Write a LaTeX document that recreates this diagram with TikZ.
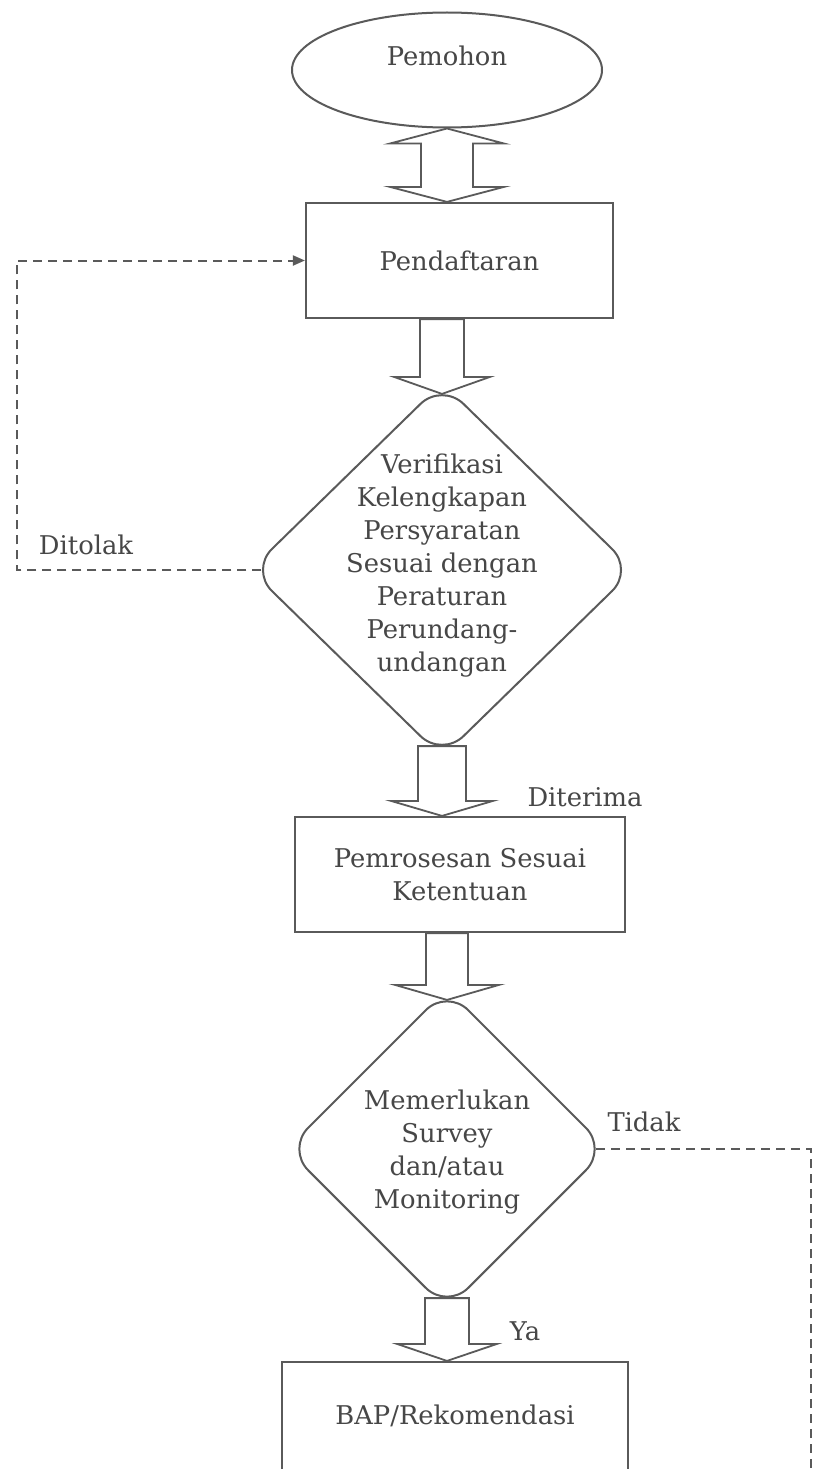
\documentclass[tikz,border=0pt]{standalone}
\usepackage{fontspec}
\setmainfont{DejaVu Serif}
\usetikzlibrary{shapes.geometric,arrows.meta,calc}
\definecolor{ln}{HTML}{5A5A5A}
\definecolor{tx}{HTML}{474747}
\newcommand{\blkarrow}[5]{%
  \draw[blk] let \p1=(#1), \p2=(#2) in
    (\x2-#3,\y1) -- (\x2-#3,\y2+#5) -- (\x2-#4,\y2+#5) -- (\x2,\y2)
    -- (\x2+#4,\y2+#5) -- (\x2+#3,\y2+#5) -- (\x2+#3,\y1) -- cycle;}
\begin{document}
\begin{tikzpicture}[x=1pt,y=-1pt,
  every node/.style={text=tx,font=\fontsize{25.8}{33}\selectfont},
  boxnode/.style={draw=ln,line width=2.2pt,rectangle,inner sep=0pt},
  dianode/.style={draw=ln,line width=2pt,diamond,inner sep=0pt,rounded corners=30pt},
  ellnode/.style={draw=ln,line width=2pt,ellipse,inner sep=0pt},
  blk/.style={draw=ln,line width=1.8pt,fill=white,line join=miter},
  dsh/.style={draw=ln,line width=2pt,dash pattern=on 9pt off 6pt},
  lbl/.style={inner sep=0pt}]
\useasboundingbox (0,0) rectangle (813,1469);
\fill[white] (0,0) rectangle (813,1469);
\clip (0,0) rectangle (813,1469);

% nodes
\node[ellnode,minimum width=310,minimum height=115] (ell) at (447,70) {};
\node[lbl] (pemohon) at (447,56) {Pemohon};
\node[boxnode,minimum width=307,minimum height=115] (pend) at (459.5,260.5) {Pendaftaran};
\node[dianode,minimum width=384,minimum height=375] (d1) at (442,570) {};
\node[lbl,align=center] (d1t) at (442,566) {Verifikasi\\Kelengkapan\\Persyaratan\\Sesuai dengan\\Peraturan\\Perundang-\\undangan};
\node[boxnode,minimum width=330,minimum height=115,align=center] (proc) at (460,874.5) {Pemrosesan Sesuai\\Ketentuan};
\node[dianode,minimum width=321,minimum height=321] (d2) at (447,1149) {};
\node[lbl,align=center] (d2t) at (447,1152) {Memerlukan\\Survey\\dan/atau\\Monitoring};
\node[boxnode,minimum width=346,minimum height=110] (bap) at (455,1417) {};
\node[lbl] (bapt) at (455,1416) {BAP/Rekomendasi};

% labels
\node[lbl] (ditolak) at (86,545) {Ditolak};
\node[lbl] (diterima) at (585,797) {Diterima};
\node[lbl] (tidak) at (644,1122) {Tidak};
\node[lbl] (ya) at (525,1331) {Ya};

% visible tips of the rounded diamonds
\coordinate (d1n) at ($(d1.north)+(0,12.4)$);
\coordinate (d1s) at ($(d1.south)+(0,-12.4)$);
\coordinate (d1w) at ($(d1.west)+(12.4,0)$);
\coordinate (d2n) at ($(d2.north)+(0,12.4)$);
\coordinate (d2s) at ($(d2.south)+(0,-12.4)$);
\coordinate (d2e) at ($(d2.east)+(-12.4,0)$);

% double block arrow
\draw[blk] let \p1=(ell.south), \p2=(pend.north) in
  (\x1,\y1) -- (\x1+57pt,\y1-15pt) -- (\x1+26pt,\y1-15pt) -- (\x1+26pt,\y2+15pt)
  -- (\x1+57pt,\y2+15pt) -- (\x1,\y2) -- (\x1-57pt,\y2+15pt) -- (\x1-26pt,\y2+15pt)
  -- (\x1-26pt,\y1-15pt) -- (\x1-57pt,\y1-15pt) -- cycle;

% single block arrows
\blkarrow{pend.south -| d1n}{d1n}{22pt}{48pt}{17pt}
\blkarrow{d1s}{proc.north -| d1s}{24pt}{51pt}{15pt}
\blkarrow{proc.south -| d2n}{d2n}{21pt}{52pt}{15pt}
\blkarrow{d2s}{bap.north -| d2s}{22pt}{50pt}{17pt}

% dashed connectors
\coordinate (lt) at (17,570);
\coordinate (rt) at (811,1480);
\draw[dsh,-{Triangle[length=12pt,width=10pt]}] (d1w) -- (lt) |- (pend.west);
\draw[dsh] (d2e) -| (rt);
\end{tikzpicture}
\end{document}
